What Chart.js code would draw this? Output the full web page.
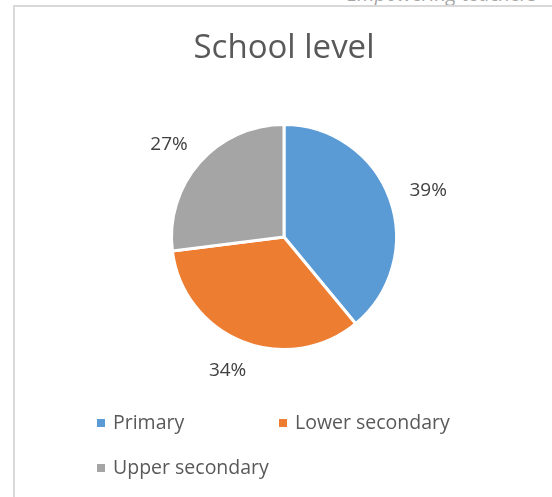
<!DOCTYPE html>
<html>
<head>
<meta charset="utf-8">
<script src="https://cdn.jsdelivr.net/npm/chart.js@4"></script>
<style>
  html, body { margin: 0; padding: 0; background: #fff; overflow: hidden; width: 552px; height: 497px; }
  #frame { position: absolute; left: 13px; top: 5px; width: 700px; height: 700px; border: 2px solid #d9d9d9; box-sizing: border-box; }
  #hdr { position: absolute; left: 347px; top: -20px; font: italic 20px "Open Sans", sans-serif; color: #a6a6a6; white-space: nowrap; }
  #wrap { position: absolute; left: 13px; top: 5px; width: 542px; height: 492px; }
</style>
</head>
<body>
<div id="hdr">Empowering teachers</div>
<div id="frame"></div>
<div id="wrap"><canvas id="c" width="542" height="492"></canvas></div>
<script>
const chartTitle = 'School level';
const categories = ['Primary', 'Lower secondary', 'Upper secondary'];
const values = [39, 34, 27];
const colors = ['#5B9BD5', '#ED7D31', '#A5A5A5'];

const FONT = '"Open Sans", sans-serif';

const textPlugin = {
  id: 'textPlugin',
  afterDraw(chart) {
    const ctx = chart.ctx;
    ctx.save();
    // title
    ctx.fillStyle = '#595959';
    ctx.font = '33px ' + FONT;
    ctx.textAlign = 'center';
    ctx.textBaseline = 'alphabetic';
    ctx.fillText(chartTitle, chart.width / 2, 53);

    // data labels, outside end
    ctx.font = '19px ' + FONT;
    ctx.fillStyle = '#404040';
    const capH = 14;
    const meta = chart.getDatasetMeta(0);
    meta.data.forEach((arc, i) => {
      const p = arc.getProps(['x', 'y', 'startAngle', 'endAngle', 'outerRadius'], true);
      const mid = (p.startAngle + p.endAngle) / 2;
      const dx = Math.cos(mid), dy = Math.sin(mid);
      const txt = values[i] + '%';
      const w = ctx.measureText(txt).width;
      const d = p.outerRadius + 22;
      const cx = p.x + dx * d + dx * w / 2;
      const cy = p.y + dy * d + dy * capH / 2;
      ctx.textAlign = 'center';
      ctx.fillText(txt, cx, cy + capH / 2);
    });

    // legend
    ctx.font = '19.5px ' + FONT;
    ctx.textAlign = 'left';
    const colX = [84, 266];
    const rowY = [424, 469];
    categories.forEach((name, i) => {
      const x = colX[i % 2];
      const y = rowY[Math.floor(i / 2)];
      ctx.fillStyle = colors[i];
      ctx.fillRect(x, y - 10, 8, 8);
      ctx.fillStyle = '#595959';
      ctx.fillText(name, x + 16, y);
    });
    ctx.restore();
  }
};

new Chart(document.getElementById('c'), {
  type: 'pie',
  data: {
    labels: categories,
    datasets: [{
      data: values,
      backgroundColor: colors,
      borderColor: '#ffffff',
      borderWidth: 3,
      radius: 112.5
    }]
  },
  options: {
    responsive: false,
    animation: false,
    devicePixelRatio: 1,
    layout: { padding: { top: 120, bottom: 148, left: 0, right: 0 } },
    plugins: {
      legend: { display: false },
      title: { display: false },
      tooltip: { enabled: false }
    }
  },
  plugins: [textPlugin]
});
</script>
</body>
</html>
